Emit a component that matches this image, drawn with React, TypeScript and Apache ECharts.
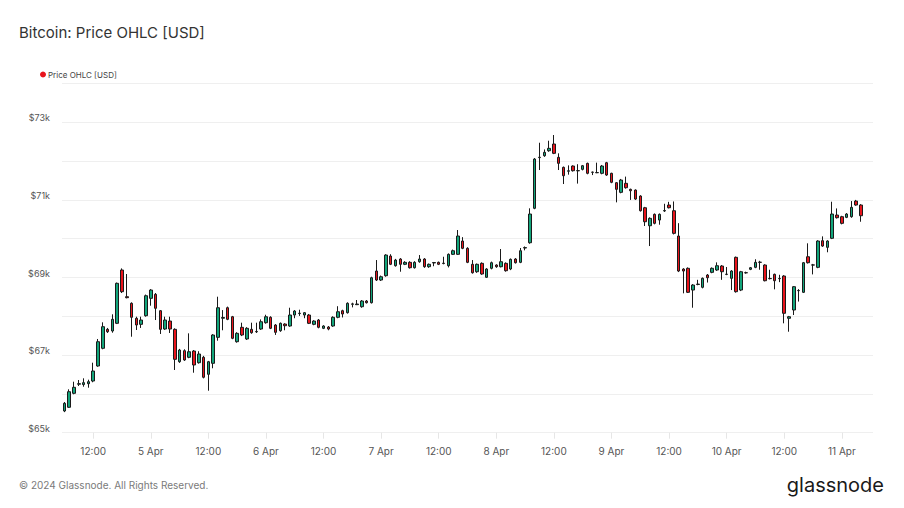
import React, { useEffect, useRef } from "react";
import * as echarts from "echarts";

// Hourly candles, 4 Apr 06:00 -> 11 Apr 04:00 (UTC)
const startDay = 4;
const startHour = 6;
const emptyTail = 2; // axis extends two hours past the last candle

const opens = [
  65559, 65655, 66015, 66250, 66240, 66263, 66332, 66719, 67175, 67664,
  67621, 67819, 69193, 68505, 68335, 67948, 67793, 68015, 68463, 68566,
  68144, 67672, 67878, 67664, 66830, 67113, 66943, 67105, 66804, 66943,
  66505, 66788, 67458, 67950, 68221, 67989, 67345, 67716, 67415, 67664,
  67600, 67672, 67835, 67974, 67775, 67629, 67800, 67750, 68033, 68070,
  68033, 68033, 67793, 67904, 67690, 67724, 67750, 67974, 68144, 68093,
  68310, 68300, 68247, 68394, 68350, 69167, 68935, 69046, 69553, 69304,
  69476, 69340, 69391, 69252, 69407, 69476, 69278, 69375, 69391, 69360,
  69304, 69597, 69597, 69940, 69752, 69340, 69149, 69365, 69005, 69237,
  69322, 69278, 69365, 69219, 69476, 69391, 69760, 69896, 70783, 72090,
  72138, 72267, 72440, 72097, 71839, 71740, 71873, 71750, 71787, 71942,
  71710, 71700, 71685, 71958, 71685, 71443, 71195, 71427, 71272, 71254,
  71100, 70798, 70334, 70628, 70481, 70715, 70868, 70721, 70069, 69218,
  69237, 68677, 68820, 68747, 69064, 69133, 69193, 69296, 69080, 68979,
  69520, 68677, 69120, 69210, 69262, 69390, 69322, 68970, 69082, 68970,
  69038, 67948, 68162, 68660, 68618, 69535, 69320, 69262, 69948, 69777,
  70010, 70610, 70567, 70550, 70567, 70970, 70868,
];
const closes = [
  65758, 66057, 66170, 66263, 66290, 66314, 66590, 67345, 67732, 67603,
  67922, 68850, 68634, 68480, 67974, 67776, 67904, 68530, 68677, 68206,
  67664, 67904, 67672, 66891, 67131, 66874, 67087, 66745, 67028, 66428,
  66830, 67518, 68221, 67970, 67922, 67433, 67561, 67518, 67690, 67577,
  67610, 67860, 67989, 67690, 67587, 67819, 67757, 68033, 68136, 68080,
  68093, 67819, 67878, 67716, 67750, 67672, 67974, 68118, 68059, 68335,
  68320, 68316, 68394, 68350, 68994, 68935, 69020, 69579, 69340, 69450,
  69340, 69391, 69252, 69391, 69476, 69278, 69340, 69385, 69340, 69370,
  69597, 69690, 70069, 69752, 69391, 69123, 69340, 69090, 69219, 69381,
  69278, 69407, 69175, 69468, 69381, 69690, 69770, 70636, 72053, 72100,
  72226, 72329, 72200, 71942, 71623, 71750, 71752, 71755, 71881, 71685,
  71715, 71705, 71873, 71641, 71453, 71272, 71512, 71314, 71236, 71022,
  70721, 70437, 70525, 70396, 70628, 70725, 70798, 70138, 69167, 69167,
  68618, 68806, 68830, 68979, 68994, 69237, 69304, 69149, 69085, 69167,
  68634, 69149, 69125, 69252, 69391, 69395, 68917, 68975, 68917, 68975,
  68077, 67989, 68763, 68665, 69381, 69381, 69325, 69940, 69811, 69940,
  70636, 70541, 70396, 70636, 70808, 70868, 70592,
];
const lows = [
  65530, 65640, 65990, 66203, 66185, 66160, 66300, 66700, 67150, 67570,
  67577, 67800, 68600, 68463, 67474, 67647, 67700, 67990, 68273, 67904,
  67544, 67650, 67570, 66616, 66800, 66850, 66920, 66546, 66780, 66400,
  66082, 66660, 67371, 67640, 67900, 67410, 67320, 67490, 67390, 67550,
  67570, 67650, 67810, 67670, 67520, 67600, 67640, 67730, 67950, 68010,
  67950, 67800, 67770, 67690, 67670, 67640, 67730, 67950, 67970, 68070,
  68230, 68290, 68220, 68330, 68330, 68910, 68910, 69020, 69320, 69280,
  69149, 69320, 69230, 69230, 69380, 69250, 69250, 69290, 69320, 69340,
  69260, 69580, 69580, 69730, 69370, 69100, 69120, 69070, 68990, 69210,
  69250, 69260, 69150, 69190, 69360, 69370, 69700, 69870, 70760, 71770,
  72110, 72240, 72180, 71770, 71409, 71650, 71730, 71420, 71760, 71660,
  71640, 71690, 71660, 71620, 71430, 70937, 71170, 71290, 71000, 71000,
  70700, 70327, 69811, 70370, 70360, 70690, 70780, 70110, 69140, 68592,
  68600, 68221, 68800, 68720, 68870, 69110, 69170, 68940, 69060, 68677,
  68610, 68650, 69100, 69190, 69240, 69200, 68900, 68950, 68695, 68880,
  67819, 67603, 68033, 68380, 68600, 69360, 69080, 69240, 69790, 69650,
  69990, 70520, 70370, 70530, 70540, 70850, 70437,
];
const highs = [
  65790, 66118, 66314, 66358, 66402, 66366, 66804, 67415, 67845, 67700,
  68051, 68870, 69235, 69090, 68360, 67990, 67990, 68560, 68700, 68600,
  68160, 67990, 67989, 67690, 67160, 67150, 67561, 67130, 67100, 66980,
  66850, 67540, 68505, 68160, 68250, 68010, 67590, 67835, 67720, 67835,
  67835, 67920, 68040, 68000, 67800, 67840, 67820, 68221, 68160, 68170,
  68110, 68060, 67900, 67930, 67770, 67750, 68000, 68260, 68170, 68360,
  68350, 68420, 68420, 68420, 69020, 69450, 69050, 69600, 69600, 69480,
  69500, 69420, 69420, 69420, 69579, 69500, 69360, 69400, 69410, 69535,
  69620, 69720, 70224, 70040, 69780, 69450, 69360, 69390, 69240, 69410,
  69340, 69734, 69390, 69490, 69500, 69760, 69800, 70783, 72080, 72473,
  72300, 72525, 72672, 72200, 71860, 71890, 71890, 71920, 71900, 71960,
  71730, 71960, 71900, 71980, 71700, 71460, 71540, 71600, 71290, 71270,
  71120, 70820, 70550, 70650, 70650, 70900, 70950, 70960, 70400, 69240,
  69260, 68830, 68940, 69000, 69090, 69260, 69390, 69320, 69270, 69190,
  69540, 69170, 69150, 69270, 69470, 69430, 69340, 69200, 69100, 69070,
  69060, 68010, 68780, 68700, 69400, 69881, 69350, 69960, 70060, 69960,
  70953, 70780, 70590, 70660, 70970, 71000, 70890,
];

const yTickValues = [65000, 67000, 69000, 71000, 73000];
const monthName = "Apr";

// hourly category labels: "D HH"
const categories: string[] = [];
for (let k = 0; k < opens.length + emptyTail; k++) {
  const totalH = startHour + k;
  const day = startDay + Math.floor(totalH / 24);
  const hour = totalH % 24;
  categories.push(`${day} ${String(hour).padStart(2, "0")}`);
}

const GREEN = "#12a57b";
const RED = "#e8141c";
const FONT = "Inter, 'Noto Sans', sans-serif";

export default function App() {
  const ref = useRef<HTMLDivElement>(null);
  useEffect(() => {
    if (!ref.current) return;
    const chart = echarts.init(ref.current, null, { renderer: "svg" });
    const candleData: any[] = opens.map((o, i) => [o, closes[i], lows[i], highs[i]]);
    for (let k = 0; k < emptyTail; k++) candleData.push(["-", "-", "-", "-"]);
    const isTick = (idx: number) => {
      const h = Number(categories[idx].split(" ")[1]);
      return h === 0 || h === 12;
    };
    chart.setOption({
      animation: false,
      backgroundColor: "#ffffff",
      textStyle: { fontFamily: FONT },
      title: {
        text: "Bitcoin: Price OHLC [USD]",
        left: 14,
        top: 20,
        textStyle: { fontSize: 15, fontWeight: "normal", color: "#333", fontFamily: FONT },
      },
      graphic: [
        { type: "circle", shape: { cx: 43, cy: 74.5, r: 3 }, style: { fill: RED } },
        {
          type: "text",
          x: 48,
          y: 74.5,
          style: { text: "Price OHLC [USD]", fontSize: 8, fill: "#444", fontFamily: FONT, verticalAlign: "middle" },
        },
        {
          type: "text",
          x: 19,
          y: 485,
          style: { text: "© 2024 Glassnode. All Rights Reserved.", fontSize: 10, fill: "#7a7a7a", fontFamily: FONT, verticalAlign: "middle" },
        },
        {
          type: "text",
          x: 884,
          y: 485,
          style: { text: "glassnode", fontSize: 20, fill: "#1a1a1a", fontFamily: FONT, align: "right", verticalAlign: "middle", fontWeight: "normal" },
        },
      ],
      grid: { left: 62, right: 31, top: 83.5, bottom: 75.3 },
      xAxis: {
        type: "category",
        data: categories,
        boundaryGap: true,
        axisLine: { show: false },
        axisTick: {
          show: true,
          alignWithLabel: true,
          interval: (idx: number) => isTick(idx),
          length: 6,
          lineStyle: { color: "#e6e6e6" },
        },
        axisLabel: {
          interval: (idx: number) => isTick(idx),
          color: "#555",
          fontSize: 10,
          fontFamily: FONT,
          margin: 13,
          formatter: (v: string) => {
            const [d, h] = v.split(" ");
            return h === "12" ? "12:00" : `${d} ${monthName}`;
          },
        },
        splitLine: { show: false },
      },
      yAxis: {
        type: "value",
        min: 65000,
        max: 74000,
        interval: 1000,
        axisLine: { show: false },
        axisTick: { show: false },
        splitLine: { lineStyle: { color: "#efefef", width: 1 } },
        axisLabel: {
          color: "#555",
          fontSize: 9,
          fontFamily: FONT,
          margin: 12,
          verticalAlign: "bottom",
          formatter: (v: number) => (yTickValues.includes(v) ? `$${v / 1000}k` : ""),
        },
      },
      series: [
        {
          name: "Price OHLC [USD]",
          type: "candlestick",
          data: candleData,
          barWidth: 3,
          itemStyle: {
            color: GREEN,
            color0: RED,
            borderColor: "#1a1a1a",
            borderColor0: "#1a1a1a",
            borderWidth: 1,
          },
        },
      ],
    });
    return () => chart.dispose();
  }, []);
  return <div ref={ref} style={{ position: "fixed", left: 0, top: 0, width: 904, height: 508 }} />;
}
